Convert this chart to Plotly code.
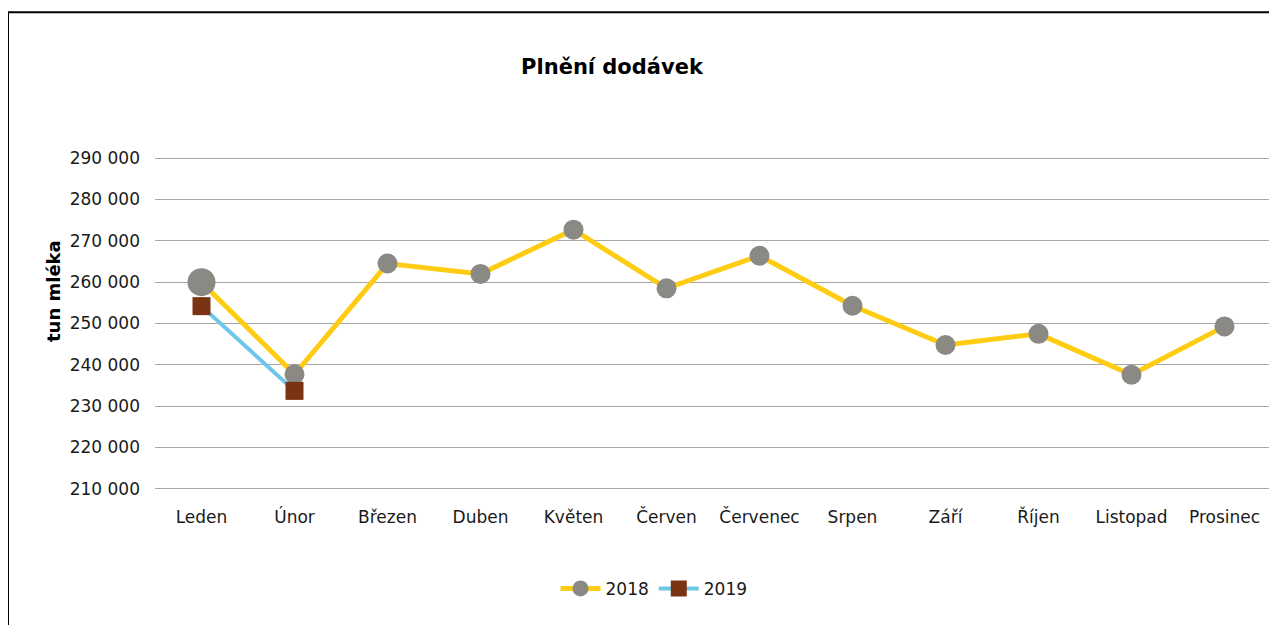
import plotly.graph_objects as go

months = ["Leden", "Únor", "Březen", "Duben", "Květen", "Červen", "Červenec",
          "Srpen", "Září", "Říjen", "Listopad", "Prosinec"]
values_2018 = [260000, 237700, 264500, 262000, 272700, 258500, 266400,
               254300, 244800, 247500, 237600, 249300]
months_2019 = ["Leden", "Únor"]
values_2019 = [254200, 233700]
y_ticks = [210000, 220000, 230000, 240000, 250000, 260000, 270000, 280000, 290000]

FONT = "DejaVu Sans"
OFF = 8  # page body margin offset

# target pixel positions (in the screenshot); y range padded by 1000 each side
PL, PR, PT, PB = 155, 1271, 153.9, 493.1
W, H = 1277 - OFF, 625 - OFF
pw, ph = PR - PL, PB - PT


def px_x(x):
    return (x - PL) / pw


def px_y(y):
    return (PB - y) / ph


fig = go.Figure()
fig.add_trace(go.Scatter(
    x=months, y=values_2018, name="2018", mode="lines+markers",
    line=dict(color="#FFCC14", width=5),
    marker=dict(symbol="circle", color="#8A8984", opacity=1,
                line=dict(width=0),
                size=[28] + [20] * (len(months) - 1)),
    hoverinfo="skip",
))
fig.add_trace(go.Scatter(
    x=months_2019, y=values_2019, name="2019", mode="lines+markers",
    line=dict(color="#6EC6E9", width=4),
    marker=dict(symbol="square", color="#7A3313", size=18, opacity=1,
                line=dict(width=0)),
    hoverinfo="skip",
))

fig.update_layout(
    width=W, height=H,
    margin=dict(l=PL - OFF, r=W - (PR - OFF), t=PT - OFF, b=H - (PB - OFF)),
    paper_bgcolor="white", plot_bgcolor="white",
    separators=", ",
    font=dict(family=FONT, size=17, color="#1a1a1a"),
    title=dict(text="<b>Plnění dodávek</b>", x=(612 - OFF) / W, xref="container",
               xanchor="center", y=1 - (67 - OFF) / H, yref="container",
               yanchor="middle",
               font=dict(family=FONT, size=21, color="#000000")),
    showlegend=True,
    legend=dict(orientation="h", x=px_x(654), xanchor="center",
                y=px_y(589), yanchor="middle",
                font=dict(family=FONT, size=17, color="#1a1a1a"),
                itemwidth=40, bgcolor="rgba(0,0,0,0)"),
    xaxis=dict(type="category", categoryorder="array", categoryarray=months,
               range=[-0.5, len(months) - 0.5], showgrid=False, showline=False,
               zeroline=False, ticks="", ticklabelstandoff=12),
    yaxis=dict(range=[209000, 291000], tickvals=y_ticks, tickformat=",.0f",
               showgrid=True, gridcolor="#A6A6A6", gridwidth=1,
               zeroline=False, showline=False, ticks="", ticklabelstandoff=14),
    annotations=[dict(text="<b>tun mléka</b>", textangle=-90, showarrow=False,
                      xref="paper", yref="paper", x=px_x(53),
                      y=px_y(291), xanchor="center", yanchor="middle",
                      font=dict(family=FONT, size=18, color="#000000"))],
    shapes=[dict(type="rect", xref="paper", yref="paper",
                 x0=px_x(8), x1=px_x(1400),
                 y0=px_y(700), y1=px_y(12),
                 line=dict(color="#000000", width=2), layer="below")],
)

fig.write_html("out.html")
